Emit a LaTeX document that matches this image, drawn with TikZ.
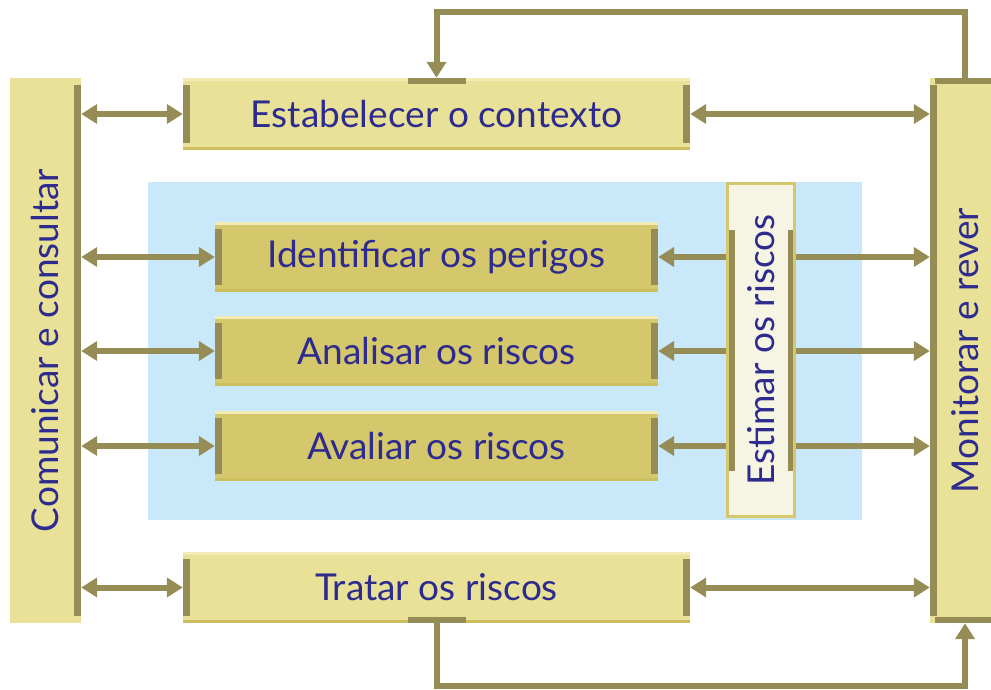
\documentclass[tikz,border=0pt]{standalone}
\usepackage{fontspec}
\setmainfont{Lato}
\usetikzlibrary{arrows.meta,positioning}

\definecolor{boxlight}{HTML}{E8E197}
\definecolor{boxdark}{HTML}{D5C76C}
\definecolor{boxtop}{HTML}{F2ECB4}
\definecolor{boxshade}{HTML}{CDBE5E}
\definecolor{olivebar}{HTML}{958D55}
\definecolor{zoneblue}{HTML}{C9E8F9}
\definecolor{estfill}{HTML}{F6F4E3}
\definecolor{txtblue}{HTML}{2E2B8E}

\tikzset{
  every node/.style={inner sep=0pt, text=txtblue, font=\fontsize{37}{40}\selectfont},
  twobars/.style={path picture={
      \fill[boxtop] (path picture bounding box.north west) rectangle ([yshift=-3pt]path picture bounding box.north east);
      \fill[boxshade] (path picture bounding box.south west) rectangle ([yshift=3pt]path picture bounding box.south east);
      \fill[olivebar] ([yshift=-7pt]path picture bounding box.north west) rectangle ([xshift=7pt,yshift=7pt]path picture bounding box.south west);
      \fill[olivebar] ([xshift=-7pt,yshift=-7pt]path picture bounding box.north east) rectangle ([yshift=7pt]path picture bounding box.south east);}},
  stepproc/.style={fill=boxlight, minimum width=507pt, minimum height=72pt, twobars},
  subproc/.style={fill=boxdark, minimum width=443pt, minimum height=70pt, twobars},
  sidebox/.style={fill=boxlight, minimum width=71pt, minimum height=545pt},
  dbl/.style={draw=olivebar, line width=6pt, {Triangle[length=16pt,width=19pt]}-{Triangle[length=16pt,width=19pt]}},
  sgl/.style={draw=olivebar, line width=6pt, -{Triangle[length=16pt,width=19pt]}}
}

\begin{document}
\begin{tikzpicture}[x=1pt,y=-1pt]
	\useasboundingbox (0,0) rectangle (991,689);
	% central zone
	\fill[zoneblue] (148,182) rectangle (862,520);

	% side boxes
	\node[sidebox, path picture={\fill[olivebar] ([xshift=-7pt,yshift=-7pt]path picture bounding box.north east) rectangle ([yshift=7pt]path picture bounding box.south east);}]
		(ccons) at (45.5,350.5) {\rotatebox{90}{Comunicar e consultar}};
	\node[sidebox, minimum width=70pt, path picture={
		\fill[olivebar] ([yshift=-7pt]path picture bounding box.north west) rectangle ([xshift=7pt,yshift=7pt]path picture bounding box.south west);
		\fill[olivebar] ([xshift=5pt]path picture bounding box.north west) rectangle ([yshift=-6pt]path picture bounding box.north east);
		\fill[olivebar] ([xshift=5pt]path picture bounding box.south west) rectangle ([yshift=6pt]path picture bounding box.south east);}]
		(mrev) at (965,350.5) {\rotatebox{90}{Monitorar e rever}};

	% main steps
	\node[stepproc] (ctx) at (436.5,114) {Estabelecer o contexto};
	\node[stepproc, minimum height=71pt] (trat) at (436.5,587.5) {Tratar os riscos};
	\node[subproc] (ident) at (436.5,257) {Identificar os perigos};
	\node[subproc] (anal) at (436.5,351) {Analisar os riscos};
	\node[subproc] (aval) at (436.5,446) {Avaliar os riscos};
	\node[draw=boxdark, line width=3pt, fill=estfill, minimum width=67pt, minimum height=333pt, path picture={
		\fill[olivebar] ([yshift=-46pt]path picture bounding box.north west) rectangle ([xshift=7pt,yshift=46pt]path picture bounding box.south west);
		\fill[olivebar] ([xshift=-7pt,yshift=-46pt]path picture bounding box.north east) rectangle ([yshift=46pt]path picture bounding box.south east);}]
		(estim) at (761,350) {\rotatebox{90}{Estimar os riscos}};

	\fill[olivebar] ([xshift=-29pt]ctx.north) rectangle ([xshift=29pt,yshift=-6pt]ctx.north);
	\fill[olivebar] ([xshift=-29pt]trat.south) rectangle ([xshift=29pt,yshift=6pt]trat.south);

	% arrows
	\draw[dbl] (ccons.east |- ctx.west) -- (ctx.west);
	\draw[dbl] (ctx.east) -- (mrev.west |- ctx.east);
	\draw[dbl] (ccons.east |- trat.west) -- (trat.west);
	\draw[dbl] (trat.east) -- (mrev.west |- trat.east);
	\foreach \s in {ident,anal,aval} {
		\draw[dbl] (ccons.east |- \s.west) -- (\s.west);
		\draw[sgl] (estim.west |- \s.east) -- (\s.east);
		\draw[sgl] (estim.east |- \s.east) -- (mrev.west |- \s.east);
	}

	% feedback loops
	\draw[sgl] (mrev.north) -- ++(0,-66) -| (ctx.north);
	\draw[sgl] (trat.south) -- ++(0,63) -| (mrev.south);
\end{tikzpicture}
\end{document}
